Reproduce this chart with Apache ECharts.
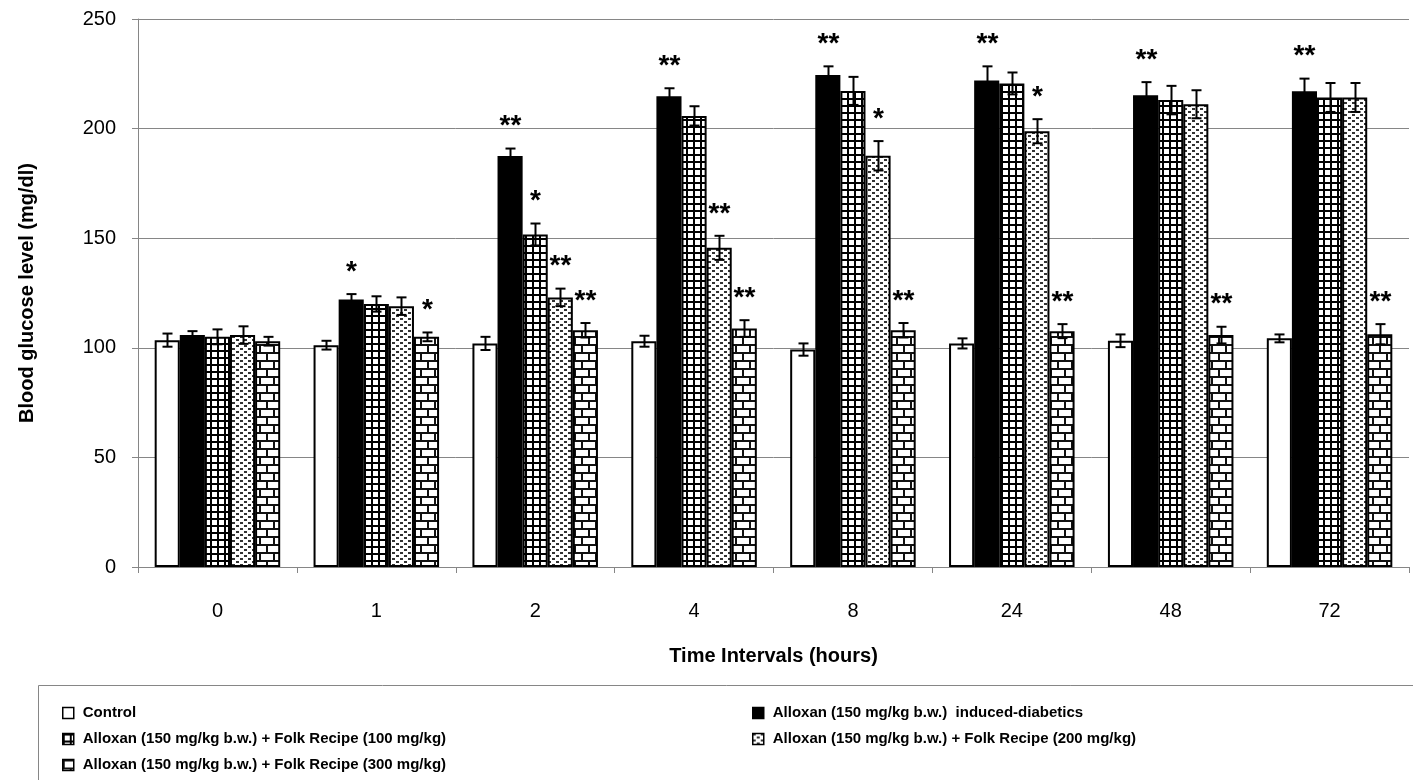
<!DOCTYPE html>
<html>
<head>
<meta charset="utf-8">
<script src="https://cdn.jsdelivr.net/npm/echarts@6/dist/echarts.min.js"></script>
<style>html,body{margin:0;padding:0;background:#fff;}#c{width:1413px;height:780px;}</style>
</head>
<body>
<div id="c"></div>
<script>
const categories = ['0', '1', '2', '4', '8', '24', '48', '72'];
const seriesNames = [
  'Control',
  'Alloxan (150 mg/kg b.w.)  induced-diabetics',
  'Alloxan (150 mg/kg b.w.) + Folk Recipe (100 mg/kg)',
  'Alloxan (150 mg/kg b.w.) + Folk Recipe (200 mg/kg)',
  'Alloxan (150 mg/kg b.w.) + Folk Recipe (300 mg/kg)'
];
const control    = [103.5, 101.2, 102.0, 103.0,  99.2, 102.0, 103.2, 104.3];
const alloxan    = [105.8, 122.0, 187.5, 214.8, 224.5, 222.0, 215.2, 217.0];
const folk100    = [105.0, 120.0, 151.7, 205.8, 217.2, 220.6, 213.0, 214.2];
const folk200    = [105.8, 119.0, 123.0, 145.6, 187.6, 198.8, 211.1, 214.2];
const folk300    = [103.0, 105.0, 108.0, 108.8, 108.0, 107.6, 105.8, 106.2];
const controlErr = [3.0, 2.0, 3.0, 2.5, 2.8, 2.3, 2.9, 1.8];
const alloxanErr = [1.8, 2.5, 3.4, 3.6, 3.9, 6.4, 6.0, 5.8];
const folk100Err = [3.4, 3.5, 5.0, 4.4, 6.4, 5.0, 6.5, 6.6];
const folk200Err = [4.0, 4.0, 4.0, 5.5, 6.7, 5.5, 6.4, 6.6];
const folk300Err = [2.0, 2.0, 3.3, 3.8, 3.3, 3.2, 3.8, 4.6];
const controlSig = ['', '', '', '', '', '', '', ''];
const alloxanSig = ['', '*', '**', '**', '**', '**', '**', '**'];
const folk100Sig = ['', '', '*', '', '', '', '', ''];
const folk200Sig = ['', '', '**', '**', '*', '*', '', ''];
const folk300Sig = ['', '*', '**', '**', '**', '**', '**', '**'];
const yTicks = { min: 0, max: 250, interval: 50 };

const values = [control, alloxan, folk100, folk200, folk300];
const errs = [controlErr, alloxanErr, folk100Err, folk200Err, folk300Err];
const sigs = [controlSig, alloxanSig, folk100Sig, folk200Sig, folk300Sig];

function tile(w, h, draw) {
  const cv = document.createElement('canvas');
  cv.width = w; cv.height = h;
  const ctx = cv.getContext('2d');
  ctx.fillStyle = '#fff'; ctx.fillRect(0, 0, w, h);
  draw(ctx);
  return cv;
}
const gridTile = tile(7, 7, ctx => {
  ctx.fillStyle = '#000';
  ctx.fillRect(0, 0, 7, 2);
  ctx.fillRect(0, 0, 2, 7);
});
const dotTile = tile(8, 6, ctx => {
  ctx.fillStyle = '#333';
  ctx.fillRect(0, 0, 3, 2);
  ctx.fillRect(4, 3, 3, 2);
});
const brickTile = tile(14, 16, ctx => {
  ctx.fillStyle = '#111';
  ctx.fillRect(0, 0, 14, 2);
  ctx.fillRect(0, 8, 14, 2);
  ctx.fillRect(0, 0, 2, 8);
  ctx.fillRect(7, 8, 2, 8);
});
const fills = [
  '#ffffff',
  '#000000',
  { image: gridTile, repeat: 'repeat' },
  { image: dotTile, repeat: 'repeat' },
  { image: brickTile, repeat: 'repeat' }
];

const GAP = 0.21;
const FONT = 'Liberation Sans, Arial, sans-serif';

// condensed legend font if available
function measure(f) {
  const cv = document.createElement('canvas').getContext('2d');
  cv.font = f;
  return cv.measureText('Alloxan (150 mg/kg b.w.) + Folk Recipe').width;
}
const hasNarrow = measure('bold 18px "Liberation Sans Narrow", monospace') !== measure('bold 18px monospace');
const LEG_FONT = hasNarrow ? '"Liberation Sans Narrow", "Liberation Sans", sans-serif' : FONT;
const LEG_SIZE = hasNarrow ? 18 : 15;

const barSeries = seriesNames.map((n, i) => ({
  name: n,
  type: 'bar',
  data: values[i],
  barGap: 0,
  barCategoryGap: (GAP * 100) + '%',
  itemStyle: { color: fills[i], borderColor: '#000', borderWidth: 2 },
  emphasis: { disabled: true }
}));

const errData = [];
for (let s = 0; s < 5; s++) {
  for (let c = 0; c < categories.length; c++) {
    errData.push([c, s, values[s][c], errs[s][c]]);
  }
}

const errSeries = {
  type: 'custom',
  name: 'err',
  data: errData,
  z: 5,
  silent: true,
  renderItem: function (params, api) {
    const c = api.value(0), s = api.value(1), v = api.value(2), e = api.value(3);
    const band = api.size([1, 0])[0];
    const w = band * (1 - GAP) / 5;
    const p = api.coord([c, v]);
    const x = Math.round(p[0] + (s - 2) * w) + 0.5;
    const top = api.coord([c, v + e])[1];
    const bot = api.coord([c, v - e])[1];
    const cap = 5;
    const st = { stroke: '#000', lineWidth: 2 };
    const children = [
      { type: 'line', shape: { x1: x, y1: top, x2: x, y2: bot }, style: st },
      { type: 'line', shape: { x1: x - cap, y1: top, x2: x + cap, y2: top }, style: st },
      { type: 'line', shape: { x1: x - cap, y1: bot, x2: x + cap, y2: bot }, style: st }
    ];
    const sig = sigs[s][c];
    if (sig) {
      children.push({
        type: 'text',
        style: {
          text: sig, x: x, y: top - 22,
          align: 'center', verticalAlign: 'middle',
          font: 'bold 28px ' + FONT, fill: '#000'
        }
      });
    }
    return { type: 'group', children: children };
  }
};

const legendPos = [
  [62, 703], [752, 703], [62, 729], [752, 729], [62, 755]
];
const legends = seriesNames.map((n, i) => ({
  data: [n],
  orient: 'horizontal',
  left: legendPos[i][0], top: legendPos[i][1],
  padding: 0,
  itemWidth: 11, itemHeight: 11, icon: 'rect',
  itemStyle: { borderWidth: 1.5, borderColor: '#000' },
  textStyle: { fontFamily: LEG_FONT, fontWeight: 'bold', fontSize: LEG_SIZE, color: '#000', lineHeight: 20, padding: [0, 0, 0, 4] },
  selectedMode: false
}));

const chart = echarts.init(document.getElementById('c'), null, { renderer: 'canvas' });
chart.setOption({
  animation: false,
  backgroundColor: '#fff',
  grid: { left: 138, right: 4, top: 19, bottom: 213, containLabel: false },
  legend: legends,
  graphic: [
    { type: 'rect', left: 36, top: 683, shape: { width: 1400, height: 120 },
      style: { fill: 'none', stroke: '#868686', lineWidth: 1 }, silent: true }
  ],
  xAxis: {
    type: 'category',
    data: categories,
    name: 'Time Intervals (hours)',
    nameLocation: 'middle',
    nameGap: 79,
    nameTextStyle: { fontFamily: FONT, fontWeight: 'bold', fontSize: 20, color: '#000' },
    axisLine: { lineStyle: { color: '#868686', width: 1 } },
    axisTick: { show: true, length: 6, lineStyle: { color: '#868686' } },
    axisLabel: { fontFamily: FONT, fontSize: 20, color: '#000', margin: 34 },
    splitLine: { show: false }
  },
  yAxis: {
    type: 'value',
    min: yTicks.min, max: yTicks.max, interval: yTicks.interval,
    name: 'Blood glucose level (mg/dl)',
    nameLocation: 'middle',
    nameGap: 101,
    nameTextStyle: { fontFamily: FONT, fontWeight: 'bold', fontSize: 20, color: '#000' },
    axisLine: { show: true, lineStyle: { color: '#868686', width: 1 } },
    axisTick: { show: true, length: 6, lineStyle: { color: '#868686' } },
    axisLabel: { fontFamily: FONT, fontSize: 20, color: '#000', margin: 22 },
    splitLine: { show: true, lineStyle: { color: '#868686', width: 1 } }
  },
  series: barSeries.concat([errSeries])
});
</script>
</body>
</html>
